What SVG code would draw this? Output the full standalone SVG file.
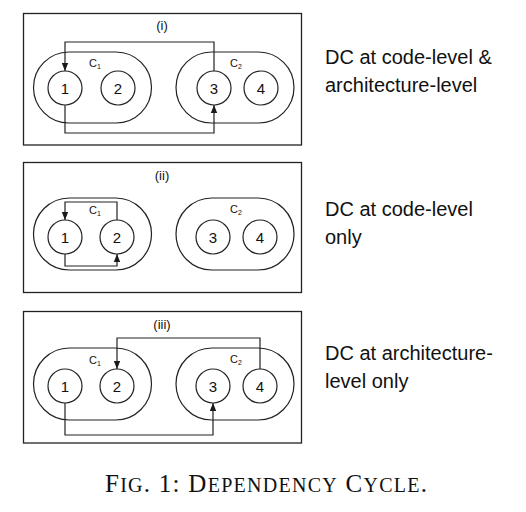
<svg xmlns="http://www.w3.org/2000/svg" width="526" height="512" viewBox="0 0 526 512">
<defs>
<marker id="ah" markerWidth="8" markerHeight="8" viewBox="0 0 8 8" refX="8" refY="4" orient="auto" markerUnits="userSpaceOnUse">
<path d="M0,0.8 L8,4 L0,7.2 Z" fill="#1a1a1a"/>
</marker>
<style>
.panel{fill:#fff;stroke:#222;stroke-width:1.3}
.pill{fill:none;stroke:#222;stroke-width:1.2}
.node{fill:#fff;stroke:#222;stroke-width:1.2}
.nl{font-family:"Liberation Sans",Arial,sans-serif;font-size:15px;fill:#111;text-anchor:middle}
.cl{font-family:"Liberation Sans",Arial,sans-serif;font-size:11px;fill:#111}
.pl{font-family:"Liberation Sans",Arial,sans-serif;font-size:13px;fill:#111;text-anchor:middle}
.desc{font-family:"Liberation Sans",Arial,sans-serif;font-size:20px;fill:#111}
.edge{fill:none;stroke:#222;stroke-width:1.2}
.cap{font-family:"Liberation Serif","Times New Roman",serif;fill:#111}
</style>
</defs>

<!-- Panel (i) -->
<g id="panel1">
<rect class="panel" x="23.5" y="13.5" width="278" height="131.5"/>
<text class="pl" x="162" y="30">(i)</text>
</g>
<g id="c1_p1"><rect class="pill" x="33.5" y="52" width="118" height="71" rx="35.5"/><text class="cl" x="89" y="67">C<tspan font-size="7" dy="2">1</tspan></text></g>
<g id="c2_p1"><rect class="pill" x="176" y="52" width="118" height="71" rx="35.5"/><text class="cl" x="230" y="67">C<tspan font-size="7" dy="2">2</tspan></text></g>
<g id="n1_p1"><circle class="node" cx="65" cy="88" r="17"/><text class="nl" x="65" y="93.5">1</text></g>
<g id="n2_p1"><circle class="node" cx="118" cy="88" r="17"/><text class="nl" x="118" y="93.5">2</text></g>
<g id="n3_p1"><circle class="node" cx="214" cy="88" r="17"/><text class="nl" x="214" y="93.5">3</text></g>
<g id="n4_p1"><circle class="node" cx="261" cy="88" r="17"/><text class="nl" x="261" y="93.5">4</text></g>
<g id="edges_p1">
<path class="edge" d="M214,71 V42 H65 V71" marker-end="url(#ah)"/>
<path class="edge" d="M65,105 V133 H214 V105" marker-end="url(#ah)"/>
</g>
<text class="desc" x="325" y="64">DC at code-level &amp;</text>
<text class="desc" x="325" y="92">architecture-level</text>

<!-- Panel (ii) -->
<g id="panel2">
<rect class="panel" x="23.5" y="162.5" width="278" height="130"/>
<text class="pl" x="162" y="180">(ii)</text>
</g>
<g id="c1_p2"><rect class="pill" x="33.5" y="198" width="118" height="72" rx="36"/><text class="cl" x="89" y="214">C<tspan font-size="7" dy="2">1</tspan></text></g>
<g id="c2_p2"><rect class="pill" x="176" y="198" width="118" height="72" rx="36"/><text class="cl" x="230" y="213">C<tspan font-size="7" dy="2">2</tspan></text></g>
<g id="n1_p2"><circle class="node" cx="65" cy="237" r="17"/><text class="nl" x="65" y="242.5">1</text></g>
<g id="n2_p2"><circle class="node" cx="117" cy="237" r="17"/><text class="nl" x="117" y="242.5">2</text></g>
<g id="n3_p2"><circle class="node" cx="213" cy="237" r="17"/><text class="nl" x="213" y="242.5">3</text></g>
<g id="n4_p2"><circle class="node" cx="260" cy="237" r="17"/><text class="nl" x="260" y="242.5">4</text></g>
<g id="edges_p2">
<path class="edge" d="M117,220 V202 H65 V220" marker-end="url(#ah)"/>
<path class="edge" d="M65,254 V266 H117 V254" marker-end="url(#ah)"/>
</g>
<text class="desc" x="325" y="216">DC at code-level</text>
<text class="desc" x="325" y="244">only</text>

<!-- Panel (iii) -->
<g id="panel3">
<rect class="panel" x="23.5" y="311.5" width="278" height="131.5"/>
<text class="pl" x="162" y="329">(iii)</text>
</g>
<g id="c1_p3"><rect class="pill" x="33.5" y="348" width="118" height="72" rx="36"/><text class="cl" x="89" y="364">C<tspan font-size="7" dy="2">1</tspan></text></g>
<g id="c2_p3"><rect class="pill" x="176" y="348" width="118" height="72" rx="36"/><text class="cl" x="230" y="363">C<tspan font-size="7" dy="2">2</tspan></text></g>
<g id="n1_p3"><circle class="node" cx="65" cy="386" r="17"/><text class="nl" x="65" y="391.5">1</text></g>
<g id="n2_p3"><circle class="node" cx="117" cy="386" r="17"/><text class="nl" x="117" y="391.5">2</text></g>
<g id="n3_p3"><circle class="node" cx="213" cy="386" r="17"/><text class="nl" x="213" y="391.5">3</text></g>
<g id="n4_p3"><circle class="node" cx="260" cy="386" r="17"/><text class="nl" x="260" y="391.5">4</text></g>
<g id="edges_p3">
<path class="edge" d="M260,369 V338 H117 V369" marker-end="url(#ah)"/>
<path class="edge" d="M65,403 V435 H213 V403" marker-end="url(#ah)"/>
</g>
<text class="desc" x="325" y="360">DC at architecture-</text>
<text class="desc" x="325" y="388">level only</text>

<!-- Caption -->
<text class="cap" x="105" y="492" font-size="25" textLength="322" lengthAdjust="spacing">F<tspan font-size="20">IG</tspan>. 1: D<tspan font-size="20">EPENDENCY</tspan> C<tspan font-size="20">YCLE</tspan>.</text>
</svg>
